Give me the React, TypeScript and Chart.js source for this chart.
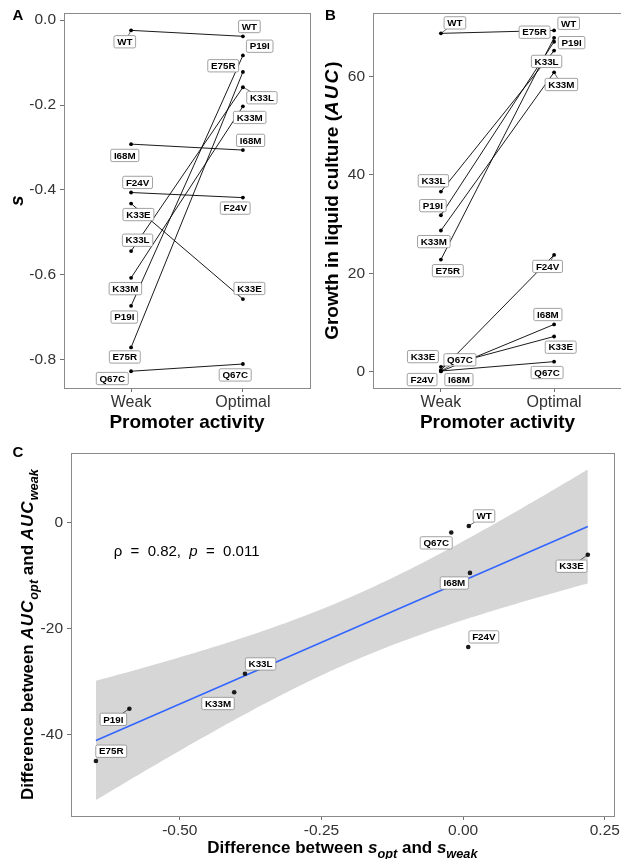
import React, { useEffect, useRef } from "react";
import { Chart, registerables } from "chart.js";

Chart.register(...registerables);

const FONT = '"Liberation Sans", Arial, Helvetica, sans-serif';

// Variants, measured under two promoter strengths
const variants = ["WT", "P19I", "F24V", "K33E", "K33L", "K33M", "Q67C", "I68M", "E75R"];
const promoterLevels = ["Weak", "Optimal"];

// Selection coefficient s
const sWeak = [-0.024, -0.673, -0.406, -0.432, -0.544, -0.607, -0.827, -0.292, -0.771];
const sOptimal = [-0.038, -0.083, -0.418, -0.657, -0.158, -0.203, -0.81, -0.306, -0.122];

// Growth in liquid culture (area under the curve)
const aucWeak = [68.7, 31.8, 0.35, 1.05, 36.6, 28.7, 0.2, 0.12, 22.8];
const aucOptimal = [69.3, 67.0, 23.75, 7.2, 65.2, 60.8, 2.1, 9.65, 67.8];

// Differences between the two promoter strengths
const deltaS = [0.01, -0.589, 0.009, 0.22, -0.385, -0.404, -0.021, 0.012, -0.648];
const deltaAuc = [-0.62, -35.1, -23.45, -6.05, -28.5, -32.0, -1.87, -9.48, -44.96];

const spearmanRho = 0.82;
const spearmanP = 0.011;

// Axis ticks
const sTicks = [0, -0.2, -0.4, -0.6, -0.8];
const aucTicks = [0, 20, 40, 60];
const deltaSTicks = [-0.5, -0.25, 0, 0.25];
const deltaAucTicks = [0, -20, -40];

// Repelled label offsets (px from the point to the label centre), in variant order
const nudgeSWeak = [[-6.3, 11.4], [-6.8, 11.2], [6.5, -10.1], [7.3, 11], [6.5, -10.9], [-5.7, 10.8], [-18.8, 7.3], [-6.3, 11.3], [-6.3, 9.5]];
const nudgeSOpt = [[6.5, -9.8], [16.8, -9.2], [-7.7, 10.5], [6.5, -10.6], [19, 10.5], [6.8, 11.1], [-7.7, 10.9], [7.7, -9.7], [-19.7, -6.2]];
const nudgeAucWeak = [[14, -10.5], [-8, -9.6], [-18.8, 9.3], [-18, -10.2], [-7.5, -10.8], [-7.1, 11.1], [19, -11.2], [18, 8.2], [6.9, 11.1]];
const nudgeAucOpt = [[14.6, -7.1], [17.5, 0.9], [-6.5, 11.5], [6.6, 10.7], [-7.5, 10.8], [7.3, 12.2], [-7, 10.9], [-6.2, -9.9], [-19.5, -5.6]];
const nudgeDelta = [[15.2, -10], [-16, 10.6], [15.6, -10.1], [-16.3, 11.5], [15.6, -9.8], [-16.2, 11.2], [-15, 10.3], [-15.6, 10.1], [15.3, -9.8]];

// Position of the correlation annotation (data units, baseline centre)
const rhoLabelX = -0.488;
const rhoLabelY = -6.3;

const T_975_DF7 = 2.364624;

type Seg = { text: string; italic?: boolean; sub?: boolean; spacing?: number };

function drawRich(ctx: CanvasRenderingContext2D, segs: Seg[], x: number, y: number, size: number, rotated: boolean, weight = "bold") {
  ctx.save();
  ctx.translate(x, y);
  if (rotated) ctx.rotate(-Math.PI / 2);
  ctx.textBaseline = "alphabetic";
  ctx.textAlign = "left";
  ctx.fillStyle = "#000";
  const fontOf = (s: Seg) => `${s.italic ? "italic " : ""}${weight} ${s.sub ? size * 0.75 : size}px ${FONT}`;
  const widths = segs.map((s) => {
    ctx.font = fontOf(s);
    (ctx as any).letterSpacing = `${s.spacing || 0}px`;
    return ctx.measureText(s.text).width;
  });
  const total = widths.reduce((a, b) => a + b, 0);
  let cx = -total / 2;
  segs.forEach((s, i) => {
    ctx.font = fontOf(s);
    (ctx as any).letterSpacing = `${s.spacing || 0}px`;
    ctx.fillText(s.text, cx, s.sub ? size * 0.3 : 0);
    cx += widths[i];
  });
  ctx.restore();
}

// Boxed label with a leader segment when it sits far enough from its point
function drawTag(ctx: CanvasRenderingContext2D, px: number, py: number, dx: number, dy: number, text: string) {
  ctx.save();
  ctx.font = `bold 9.8px ${FONT}`;
  const w = ctx.measureText(text).width + 6.4;
  const h = 12.3;
  const cx = px + dx;
  const cy = py + dy;
  const x0 = cx - w / 2;
  const y0 = cy - h / 2;
  const nx = Math.max(x0, Math.min(px, x0 + w));
  const ny = Math.max(y0, Math.min(py, y0 + h));
  const gap = Math.hypot(nx - px, ny - py);
  if (gap > 5.2) {
    const enter = (p: number, v: number, lo: number, hi: number) =>
      Math.abs(v) < 1e-9 ? -Infinity : v > 0 ? (lo - p) / v : (hi - p) / v;
    const t = Math.max(0, enter(px, dx, x0, x0 + w), enter(py, dy, y0, y0 + h));
    ctx.strokeStyle = "#000";
    ctx.lineWidth = 0.6;
    ctx.beginPath();
    ctx.moveTo(px, py);
    ctx.lineTo(px + t * dx, py + t * dy);
    ctx.stroke();
  }
  ctx.beginPath();
  (ctx as any).roundRect(x0, y0, w, h, 1.6);
  ctx.fillStyle = "#fff";
  ctx.fill();
  ctx.strokeStyle = "#8a8a8a";
  ctx.lineWidth = 0.8;
  ctx.stroke();
  ctx.fillStyle = "#000";
  ctx.textAlign = "center";
  ctx.textBaseline = "middle";
  ctx.fillText(text, cx, cy + 0.5);
  ctx.restore();
}

function drawPanelBorder(chart: any) {
  const { ctx, chartArea: a } = chart;
  ctx.save();
  ctx.strokeStyle = "#8a8a8a";
  ctx.lineWidth = 1;
  ctx.strokeRect(Math.round(a.left) + 0.5, Math.round(a.top) + 0.5, Math.round(a.right - a.left), Math.round(a.bottom - a.top));
  ctx.restore();
}

function drawLetter(ctx: CanvasRenderingContext2D, letter: string, x: number, y: number) {
  ctx.save();
  ctx.font = `bold 15px ${FONT}`;
  ctx.fillStyle = "#000";
  ctx.textAlign = "left";
  ctx.textBaseline = "alphabetic";
  ctx.fillText(letter, x, y);
  ctx.restore();
}

const tickColor = "#333";
const tickGrid = { drawOnChartArea: false, drawTicks: true, tickLength: 4, color: "#4d4d4d", lineWidth: 0.8 };

function fixedTicks(values: number[]) {
  return (scale: any) => {
    scale.ticks = values.map((value) => ({ value }));
  };
}

interface Area { left: number; top: number; right: number; bottom: number }

interface SlopeSpec {
  weak: number[];
  opt: number[];
  yMin: number;
  yMax: number;
  ticks: number[];
  fmt: (v: number) => string;
  nudgeWeak: number[][];
  nudgeOpt: number[][];
  area: Area;
  letter: string;
  letterX: number;
  yTitle: Seg[];
  yTitleX: number;
}

function slopeConfig(spec: SlopeSpec, W: number, H: number): any {
  const datasets = variants.map((name, i) => ({
    label: name,
    data: [
      { x: 0, y: spec.weak[i] },
      { x: 1, y: spec.opt[i] },
    ],
    showLine: true,
    borderColor: "#000",
    borderWidth: 0.9,
    pointRadius: 1.9,
    pointHoverRadius: 1.9,
    pointBackgroundColor: "#000",
    pointBorderWidth: 0,
  }));

  const decor = {
    id: "slopeDecor",
    afterDatasetsDraw(chart: any) {
      const { ctx } = chart;
      const xs = chart.scales.x;
      const ys = chart.scales.y;
      drawPanelBorder(chart);
      variants.forEach((name, i) => {
        drawTag(ctx, xs.getPixelForValue(0), ys.getPixelForValue(spec.weak[i]), spec.nudgeWeak[i][0], spec.nudgeWeak[i][1], name);
        drawTag(ctx, xs.getPixelForValue(1), ys.getPixelForValue(spec.opt[i]), spec.nudgeOpt[i][0], spec.nudgeOpt[i][1], name);
      });
    },
    afterDraw(chart: any) {
      const { ctx, chartArea: a } = chart;
      drawLetter(ctx, spec.letter, spec.letterX, 20);
      drawRich(ctx, spec.yTitle, spec.yTitleX, (a.top + a.bottom) / 2, 19, true);
      drawRich(ctx, [{ text: "Promoter activity" }], (a.left + a.right) / 2, 428, 19, false);
    },
  };

  return {
    type: "scatter",
    data: { datasets },
    options: {
      responsive: false,
      animation: false,
      devicePixelRatio: 1,
      events: [],
      layout: { autoPadding: false, padding: { top: spec.area.top, right: W - spec.area.right, left: 0, bottom: 0 } },
      plugins: { legend: { display: false }, tooltip: { enabled: false } },
      scales: {
        x: {
          type: "linear",
          min: -0.6,
          max: 1.6,
          afterBuildTicks: fixedTicks([0, 1]),
          ticks: {
            callback: (v: number) => promoterLevels[v],
            font: { family: FONT, size: 16 },
            color: tickColor,
            padding: 1,
            maxRotation: 0,
            autoSkip: false,
          },
          grid: tickGrid,
          border: { display: false },
          afterFit: (s: any) => {
            s.height = H - spec.area.bottom;
          },
        },
        y: {
          type: "linear",
          min: spec.yMin,
          max: spec.yMax,
          afterBuildTicks: fixedTicks(spec.ticks),
          ticks: {
            callback: (v: number) => spec.fmt(v),
            font: { family: FONT, size: 15.5 },
            color: tickColor,
            padding: 4,
            autoSkip: false,
          },
          grid: tickGrid,
          border: { display: false },
          afterFit: (s: any) => {
            s.width = spec.area.left;
          },
        },
      },
    },
    plugins: [decor],
  };
}

function linearFit(xs: number[], ys: number[]) {
  const n = xs.length;
  const mx = xs.reduce((a, b) => a + b, 0) / n;
  const my = ys.reduce((a, b) => a + b, 0) / n;
  let sxx = 0;
  let sxy = 0;
  xs.forEach((x, i) => {
    sxx += (x - mx) * (x - mx);
    sxy += (x - mx) * (ys[i] - my);
  });
  const slope = sxy / sxx;
  const intercept = my - slope * mx;
  const predict = (x: number) => intercept + slope * x;
  let ssr = 0;
  xs.forEach((x, i) => {
    const r = ys[i] - predict(x);
    ssr += r * r;
  });
  const s2 = ssr / (n - 2);
  const se = (x: number) => Math.sqrt(s2 * (1 / n + ((x - mx) * (x - mx)) / sxx));
  return { predict, se };
}

function scatterConfig(W: number, H: number): any {
  const area: Area = { left: 71, top: 10, right: 615, bottom: 376 };
  const fit = linearFit(deltaS, deltaAuc);
  const lo = Math.min(...deltaS);
  const hi = Math.max(...deltaS);
  const steps = 80;
  const xsGrid = Array.from({ length: steps + 1 }, (_, k) => lo + ((hi - lo) * k) / steps);
  const upper = xsGrid.map((x) => ({ x, y: fit.predict(x) + T_975_DF7 * fit.se(x) }));
  const lower = xsGrid.map((x) => ({ x, y: fit.predict(x) - T_975_DF7 * fit.se(x) }));
  const line = [lo, hi].map((x) => ({ x, y: fit.predict(x) }));

  const datasets = [
    {
      label: "variants",
      data: deltaS.map((x, i) => ({ x, y: deltaAuc[i] })),
      pointRadius: 2.3,
      pointHoverRadius: 2.3,
      pointBackgroundColor: "#1a1a1a",
      pointBorderWidth: 0,
      showLine: false,
    },
    { label: "fit", data: line, showLine: true, borderColor: "#3366FF", borderWidth: 1.6, pointRadius: 0 },
    {
      label: "ci upper",
      data: upper,
      showLine: true,
      borderWidth: 0,
      pointRadius: 0,
      fill: "+1",
      backgroundColor: "rgba(153,153,153,0.4)",
    },
    { label: "ci lower", data: lower, showLine: true, borderWidth: 0, pointRadius: 0 },
  ];

  const decor = {
    id: "scatterDecor",
    afterDatasetsDraw(chart: any) {
      const { ctx } = chart;
      const xs = chart.scales.x;
      const ys = chart.scales.y;
      drawPanelBorder(chart);
      drawRich(
        ctx,
        [
          { text: "ρ" },
          { text: "  =  " },
          { text: `${spearmanRho.toFixed(2)},  ` },
          { text: "p", italic: true },
          { text: "  =  " },
          { text: `${spearmanP}` },
        ],
        xs.getPixelForValue(rhoLabelX),
        ys.getPixelForValue(rhoLabelY),
        15,
        false,
        "normal"
      );
      variants.forEach((name, i) => {
        drawTag(ctx, xs.getPixelForValue(deltaS[i]), ys.getPixelForValue(deltaAuc[i]), nudgeDelta[i][0], nudgeDelta[i][1], name);
      });
    },
    afterDraw(chart: any) {
      const { ctx, chartArea: a } = chart;
      drawLetter(ctx, "C", 12.5, 16.7);
      drawRich(
        ctx,
        [
          { text: "Difference between " },
          { text: "AUC", italic: true, spacing: 1 },
          { text: "opt", italic: true, sub: true },
          { text: " and " },
          { text: "AUC", italic: true, spacing: 1 },
          { text: "weak", italic: true, sub: true },
        ],
        33,
        (a.top + a.bottom) / 2,
        17,
        true
      );
      drawRich(
        ctx,
        [
          { text: "Difference between " },
          { text: "s", italic: true },
          { text: "opt", italic: true, sub: true },
          { text: " and " },
          { text: "s", italic: true },
          { text: "weak", italic: true, sub: true },
        ],
        (a.left + a.right) / 2,
        412.5,
        17,
        false
      );
    },
  };

  return {
    type: "scatter",
    data: { datasets },
    options: {
      responsive: false,
      animation: false,
      devicePixelRatio: 1,
      events: [],
      layout: { autoPadding: false, padding: { top: area.top, right: W - area.right, left: 0, bottom: 0 } },
      plugins: { legend: { display: false }, tooltip: { enabled: false }, filler: { propagate: false } },
      scales: {
        x: {
          type: "linear",
          min: -0.692,
          max: 0.266,
          afterBuildTicks: fixedTicks(deltaSTicks),
          ticks: {
            callback: (v: number) => v.toFixed(2),
            font: { family: FONT, size: 15.5 },
            color: tickColor,
            padding: 1,
            maxRotation: 0,
            autoSkip: false,
          },
          grid: tickGrid,
          border: { display: false },
          afterFit: (s: any) => {
            s.height = H - area.bottom;
          },
        },
        y: {
          type: "linear",
          min: -55.33,
          max: 13.08,
          afterBuildTicks: fixedTicks(deltaAucTicks),
          ticks: {
            callback: (v: number) => String(v),
            font: { family: FONT, size: 15.5 },
            color: tickColor,
            padding: 4,
            autoSkip: false,
          },
          grid: tickGrid,
          border: { display: false },
          afterFit: (s: any) => {
            s.width = area.left;
          },
        },
      },
    },
    plugins: [decor],
  };
}

const panelA: SlopeSpec = {
  weak: sWeak,
  opt: sOptimal,
  yMin: -0.8665,
  yMax: 0.0162,
  ticks: sTicks,
  fmt: (v) => v.toFixed(1),
  nudgeWeak: nudgeSWeak,
  nudgeOpt: nudgeSOpt,
  area: { left: 64, top: 7, right: 310, bottom: 388 },
  letter: "A",
  letterX: 12.5,
  yTitle: [{ text: "s", italic: true }],
  yTitleX: 23,
};

const panelB: SlopeSpec = {
  weak: aucWeak,
  opt: aucOptimal,
  yMin: -3.25,
  yMax: 72.77,
  ticks: aucTicks,
  fmt: (v) => String(v),
  nudgeWeak: nudgeAucWeak,
  nudgeOpt: nudgeAucOpt,
  area: { left: 61, top: 7, right: 310, bottom: 388 },
  letter: "B",
  letterX: 13,
  yTitle: [{ text: "Growth in liquid culture (" }, { text: "AUC", italic: true, spacing: 2 }, { text: ")" }],
  yTitleX: 25.5,
};

function ChartCanvas(props: { left: number; top: number; width: number; height: number; make: (w: number, h: number) => any }) {
  const ref = useRef<HTMLCanvasElement>(null);
  useEffect(() => {
    const chart = new Chart(ref.current as HTMLCanvasElement, props.make(props.width, props.height));
    return () => chart.destroy();
  }, []);
  return (
    <canvas
      ref={ref}
      width={props.width}
      height={props.height}
      style={{ position: "absolute", left: props.left, top: props.top, width: props.width, height: props.height }}
    />
  );
}

export default function App() {
  return (
    <div style={{ position: "fixed", left: 0, top: 0, width: 621, height: 859, overflow: "hidden", background: "#fff" }}>
      <ChartCanvas left={0} top={0} width={312} height={440} make={(w, h) => slopeConfig(panelA, w, h)} />
      <ChartCanvas left={312} top={0} width={312} height={440} make={(w, h) => slopeConfig(panelB, w, h)} />
      <ChartCanvas left={0} top={440} width={621} height={419} make={scatterConfig} />
    </div>
  );
}
